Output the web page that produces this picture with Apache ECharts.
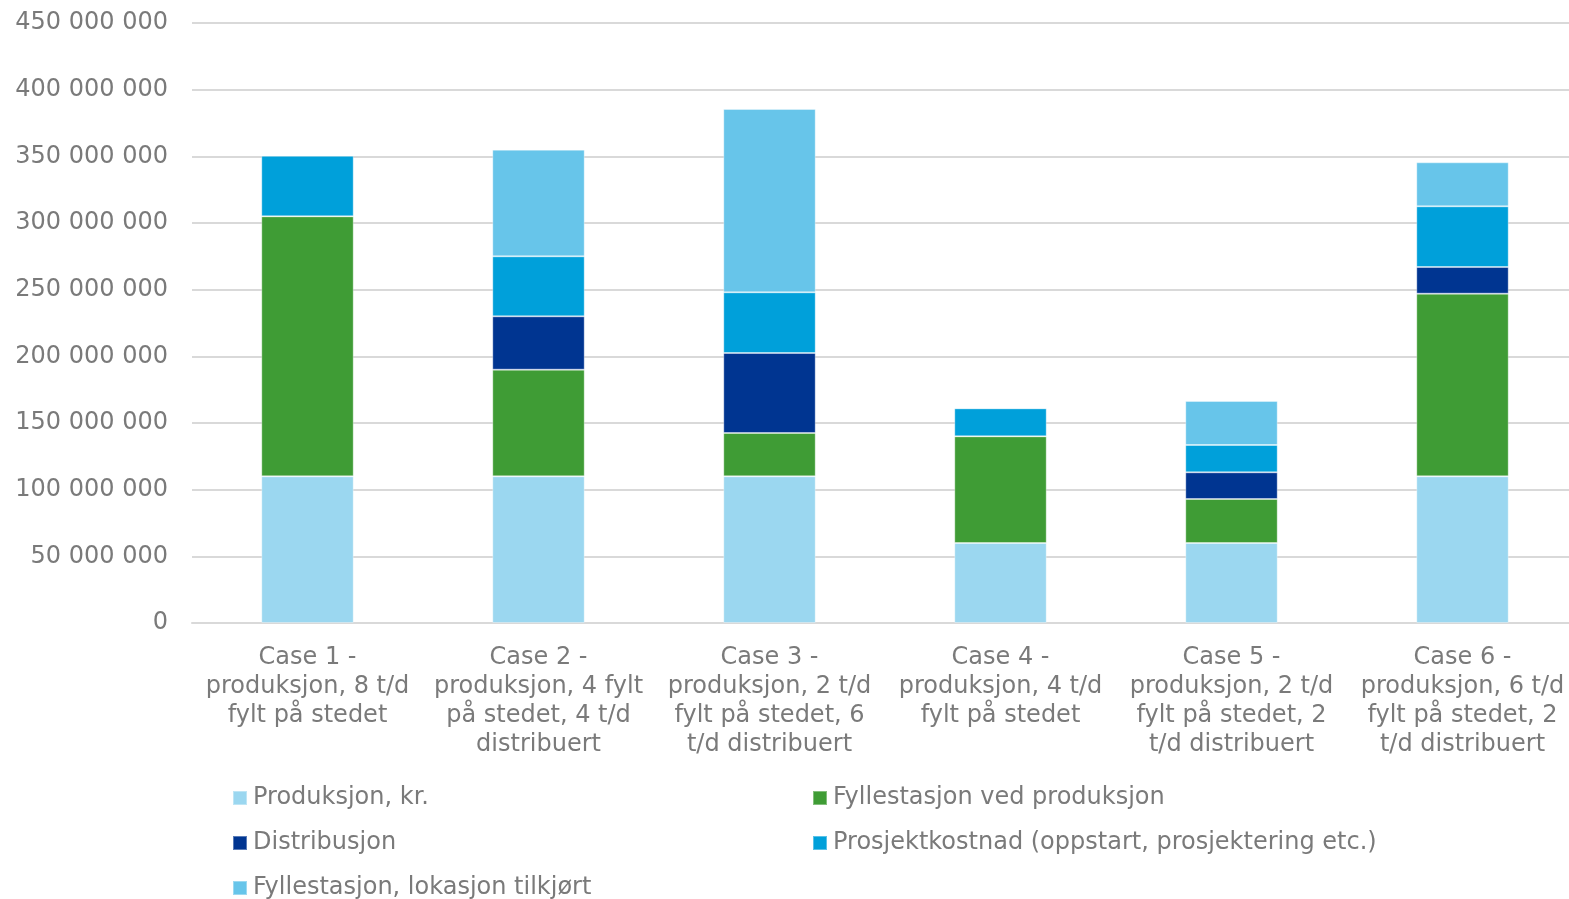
<!DOCTYPE html>
<html>
<head>
<meta charset="utf-8">
<script src="https://cdn.jsdelivr.net/npm/echarts@6/dist/echarts.min.js"></script>
<style>
  html, body { margin: 0; padding: 0; background: #ffffff; overflow: hidden; }
  #chart { width: 1580px; height: 899px; }
</style>
</head>
<body>
<div id="chart"></div>
<script>
// Kostnader per case (kr), stablet
const categories = [
  'Case 1 -\nproduksjon, 8 t/d\nfylt på stedet',
  'Case 2 -\nproduksjon, 4 fylt\npå stedet, 4 t/d\ndistribuert',
  'Case 3 -\nproduksjon, 2 t/d\nfylt på stedet, 6\nt/d distribuert',
  'Case 4 -\nproduksjon, 4 t/d\nfylt på stedet',
  'Case 5 -\nproduksjon, 2 t/d\nfylt på stedet, 2\nt/d distribuert',
  'Case 6 -\nproduksjon, 6 t/d\nfylt på stedet, 2\nt/d distribuert'
];
const seriesNames = [
  'Produksjon, kr.',
  'Fyllestasjon ved produksjon',
  'Distribusjon',
  'Prosjektkostnad (oppstart, prosjektering etc.)',
  'Fyllestasjon, lokasjon tilkjørt'
];
const produksjon      = [110000000, 110000000, 110000000, 60000000, 60000000, 110000000];
const fyllProduksjon  = [195000000, 80000000, 32500000, 80000000, 33000000, 137000000];
const distribusjon    = [0, 40000000, 60000000, 0, 20000000, 20000000];
const prosjektkostnad = [45500000, 45000000, 45500000, 21000000, 20500000, 45500000];
const fyllLokasjon    = [0, 80000000, 137500000, 0, 33000000, 33000000];
const yTicks = { min: 0, max: 450000000, interval: 50000000 };

const colors = ['#9bd7f0', '#3f9c35', '#003591', '#00a0da', '#67c5ea'];
const values = [produksjon, fyllProduksjon, distribusjon, prosjektkostnad, fyllLokasjon];
const textColor = '#7a7a7a';
const fontFamily = '"DejaVu Sans", Verdana, sans-serif';

function fmt(v) {
  return String(Math.round(v)).replace(/\B(?=(\d{3})+(?!\d))/g, ' ');
}

// One legend block per entry, laid out in two columns
const legendPos = [
  { left: 232, top: 784 },
  { left: 812, top: 784 },
  { left: 232, top: 829 },
  { left: 812, top: 829 },
  { left: 232, top: 874 }
];
const legends = seriesNames.map((name, i) => ({
  data: [name],
  left: legendPos[i].left,
  top: legendPos[i].top,
  padding: 0,
  itemWidth: 14,
  itemHeight: 14,
  icon: 'rect',
  selectedMode: false,
  textStyle: { color: textColor, fontSize: 24, fontFamily: fontFamily, lineHeight: 28, padding: [0, 0, 0, 1] }
}));

const chart = echarts.init(document.getElementById('chart'), null, { renderer: 'canvas' });
chart.setOption({
  animation: false,
  backgroundColor: '#ffffff',
  grid: { left: 192, top: 23, width: 1386, height: 600, containLabel: false },
  legend: legends,
  xAxis: {
    type: 'category',
    data: categories,
    axisLine: { lineStyle: { color: '#d9d9d9', width: 2 } },
    axisTick: { show: false },
    axisLabel: {
      interval: 0,
      color: textColor,
      fontSize: 24,
      fontFamily: fontFamily,
      lineHeight: 29,
      margin: 20,
      align: 'center'
    }
  },
  yAxis: {
    type: 'value',
    min: yTicks.min,
    max: yTicks.max,
    interval: yTicks.interval,
    axisLine: { show: false },
    axisTick: { show: false },
    splitLine: { lineStyle: { color: '#d9d9d9', width: 2 } },
    axisLabel: {
      color: textColor,
      fontSize: 24,
      fontFamily: fontFamily,
      margin: 24,
      formatter: fmt
    }
  },
  series: seriesNames.map((name, i) => ({
    name: name,
    type: 'bar',
    stack: 'total',
    barWidth: '40%',
    data: values[i],
    itemStyle: { color: colors[i], borderColor: 'rgba(255,255,255,0.35)', borderWidth: 1 }
  }))
});
</script>
</body>
</html>
